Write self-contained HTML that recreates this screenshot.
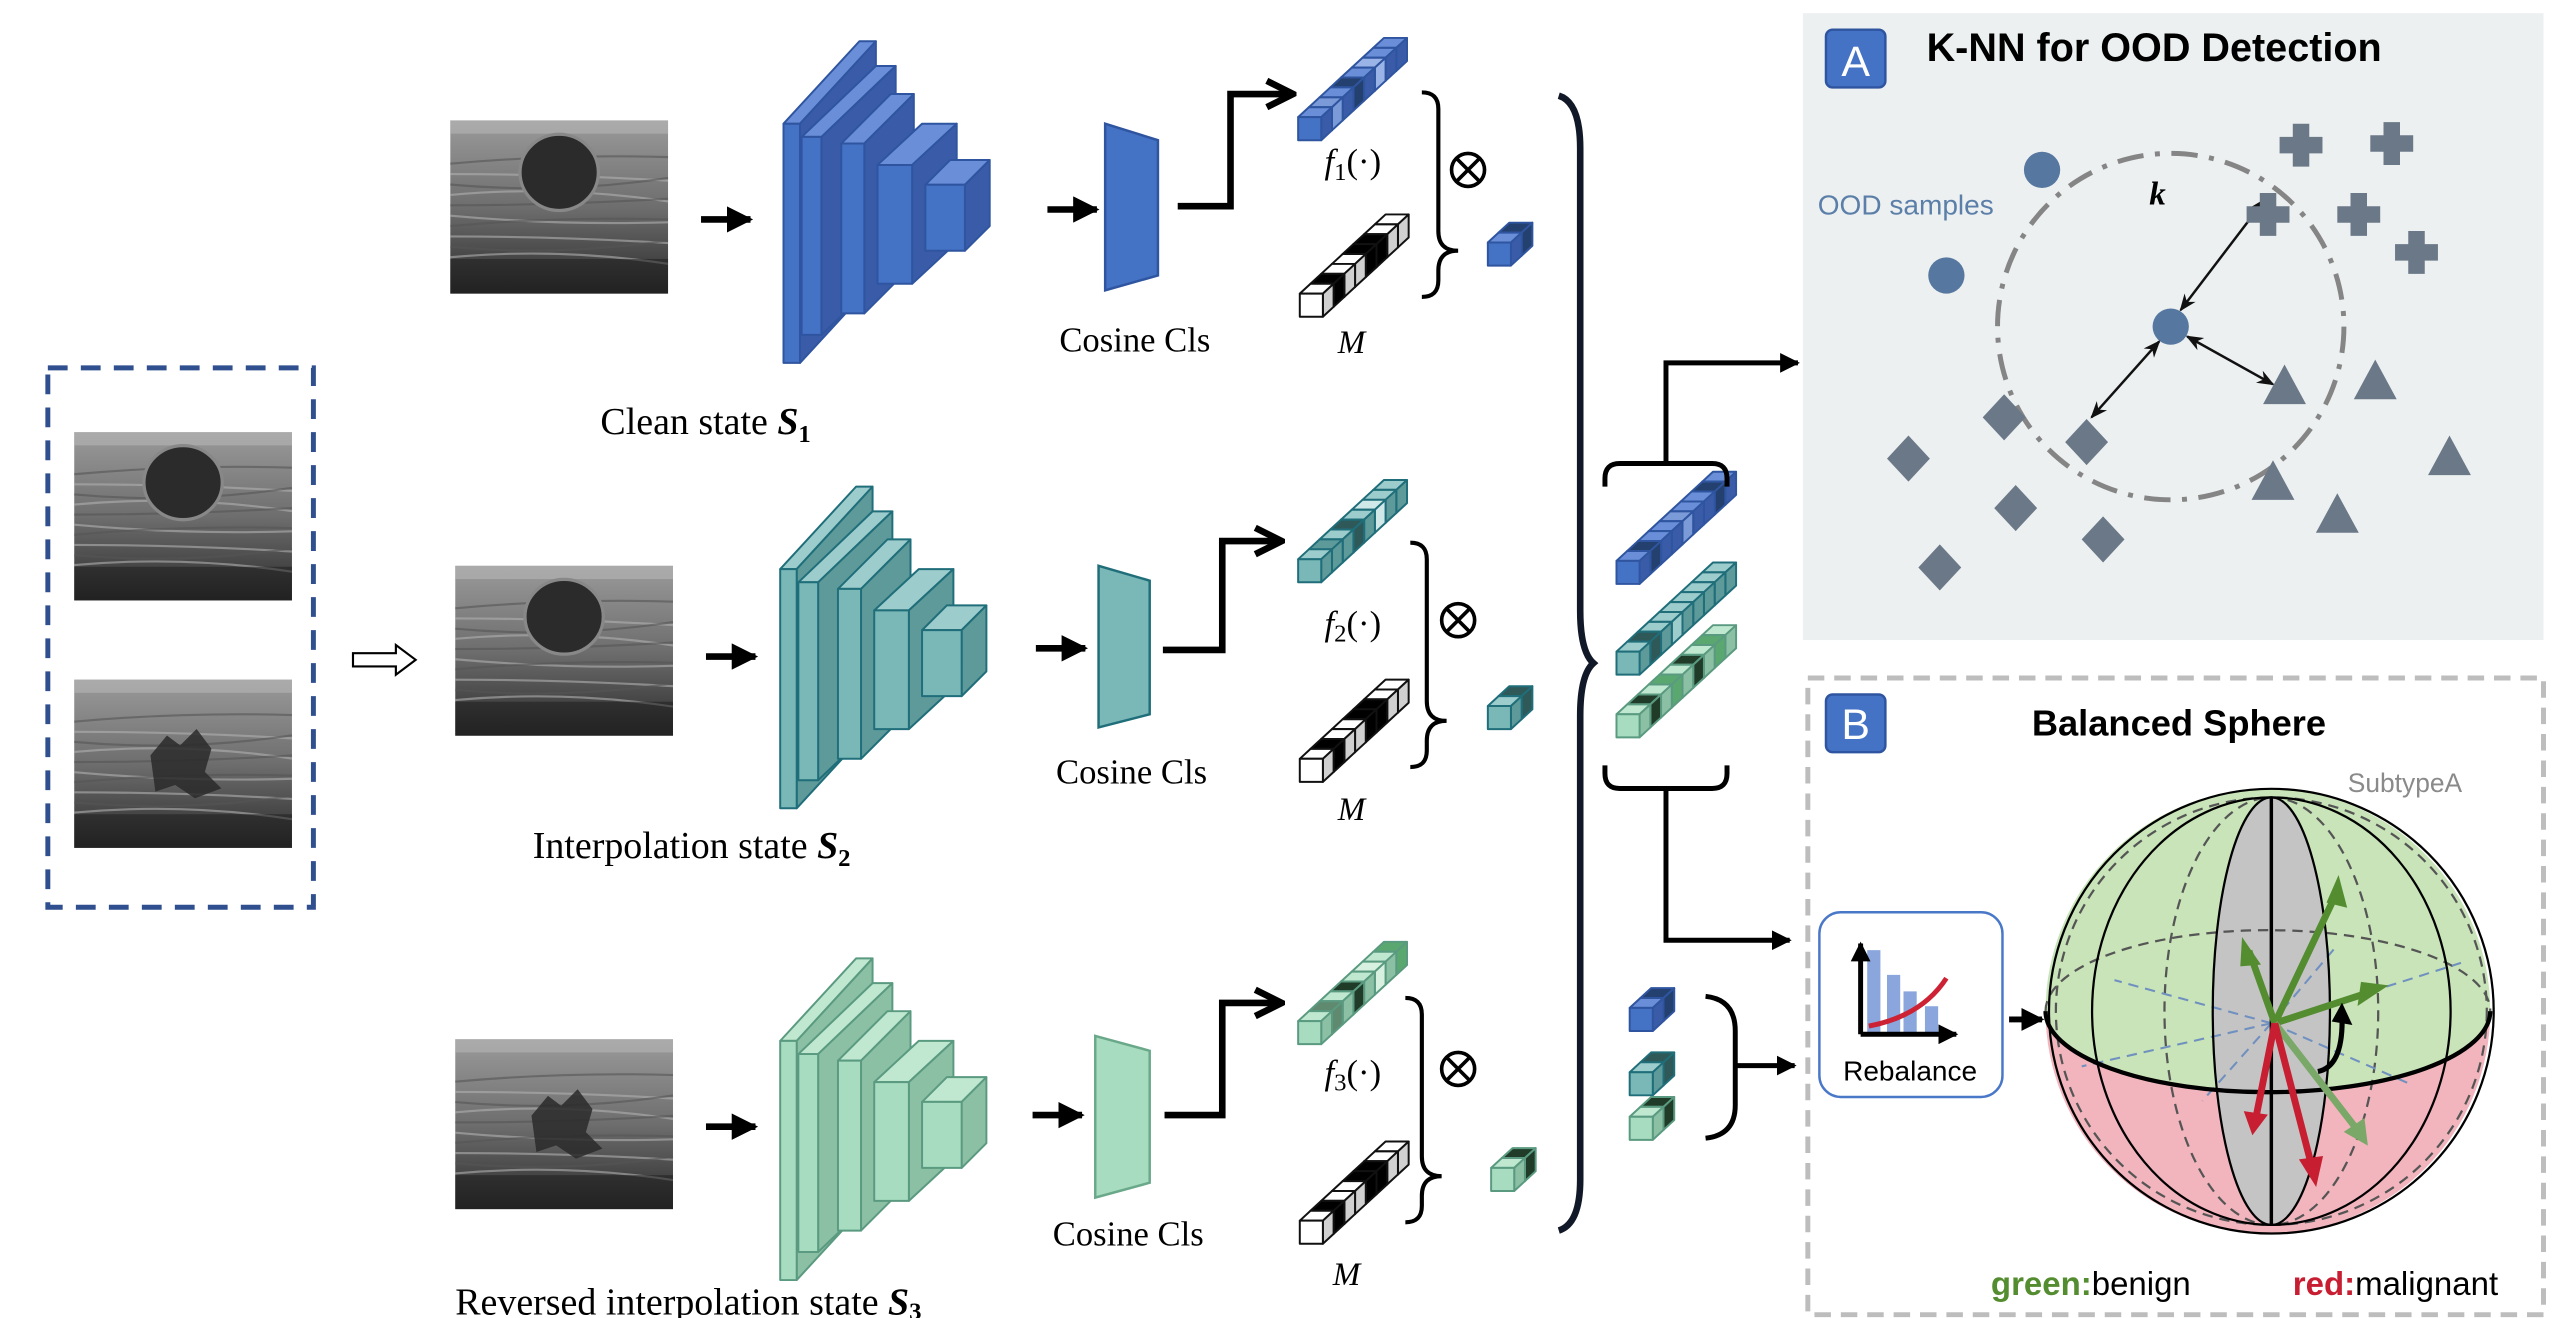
<!DOCTYPE html>
<html><head><meta charset="utf-8"><style>
html,body{margin:0;padding:0;background:#fff;}
svg{display:block;}
.serif{font-family:"Liberation Serif",serif;}
.sans{font-family:"Liberation Sans",sans-serif;}
</style></head><body>
<svg id="s" width="2560" height="1318" viewBox="0 0 1552 799" preserveAspectRatio="none" xmlns="http://www.w3.org/2000/svg">
<defs>
<marker id="ah" viewBox="0 0 10 10" refX="9" refY="5" markerWidth="4" markerHeight="4" orient="auto"><path d="M0,0 L10,5 L0,10 z" fill="#000"/></marker>
<marker id="ao" viewBox="0 0 10 10" refX="8" refY="5" markerWidth="5" markerHeight="5" orient="auto"><path d="M1,1 L9,5 L1,9" fill="none" stroke="#000" stroke-width="2"/></marker>
<marker id="sm" viewBox="0 0 10 10" refX="9" refY="5" markerWidth="7" markerHeight="7" orient="auto-start-reverse"><path d="M0,1 L10,5 L0,9 L3,5 z" fill="#111"/></marker>
<linearGradient id="usb" x1="0" y1="0" x2="0" y2="1"><stop offset="0" stop-color="#9a9a9a"/><stop offset="0.5" stop-color="#6e6e6e"/><stop offset="1" stop-color="#2a2a2a"/></linearGradient>
</defs>
<g id="dyn"></g>

<rect x="29" y="223" width="161" height="327" fill="none" stroke="#2f4f8f" stroke-width="3" stroke-dasharray="12,8"/>

<path d="M214,396 L240,396 L240,391 L252,400 L240,409 L240,404 L214,404 z" fill="#fff" stroke="#000" stroke-width="1.3"/>
<line x1="425" y1="133" x2="455" y2="133" stroke="#000" stroke-width="4" marker-end="url(#ah)"/>
<line x1="428" y1="398" x2="458" y2="398" stroke="#000" stroke-width="4" marker-end="url(#ah)"/>
<line x1="428" y1="683" x2="458" y2="683" stroke="#000" stroke-width="4" marker-end="url(#ah)"/>
<line x1="635" y1="127" x2="665" y2="127" stroke="#000" stroke-width="4" marker-end="url(#ah)"/>
<line x1="628" y1="393" x2="658" y2="393" stroke="#000" stroke-width="4" marker-end="url(#ah)"/>
<line x1="626" y1="676" x2="656" y2="676" stroke="#000" stroke-width="4" marker-end="url(#ah)"/>

<path d="M670,75 L702,85 L702,167 L670,176 z" fill="#4472c4" stroke="#2f55a0" stroke-width="1.5"/>
<path d="M666,343 L697,352 L697,433 L666,441 z" fill="#7ab8b8" stroke="#1f6e7a" stroke-width="1.5"/>
<path d="M664,628 L697,637 L697,717 L664,726 z" fill="#a8dcc0" stroke="#6aa88a" stroke-width="1.5"/>
<text x="688" y="213" class="serif" font-size="21" text-anchor="middle">Cosine Cls</text>
<text x="686" y="475" class="serif" font-size="21" text-anchor="middle">Cosine Cls</text>
<text x="684" y="755" class="serif" font-size="21" text-anchor="middle">Cosine Cls</text>

<path d="M714,125 L746,125 L746,57 L782,57" fill="none" stroke="#000" stroke-width="4" marker-end="url(#ao)"/>
<path d="M705,394 L741,394 L741,328 L775,328" fill="none" stroke="#000" stroke-width="4" marker-end="url(#ao)"/>
<path d="M706,676 L741,676 L741,608 L775,608" fill="none" stroke="#000" stroke-width="4" marker-end="url(#ao)"/>

<text x="364" y="263" class="serif" font-size="23">Clean state <tspan font-weight="bold" font-style="italic">S</tspan><tspan font-weight="bold" font-size="15" dy="5">1</tspan></text>
<text x="323" y="520" class="serif" font-size="23">Interpolation state <tspan font-weight="bold" font-style="italic">S</tspan><tspan font-weight="bold" font-size="15" dy="5">2</tspan></text>
<text x="276" y="797" class="serif" font-size="23">Reversed interpolation state <tspan font-weight="bold" font-style="italic">S</tspan><tspan font-weight="bold" font-size="15" dy="3">3</tspan></text>

<text x="803" y="105" class="serif" font-size="21"><tspan font-style="italic">f</tspan><tspan font-size="15" dy="4">1</tspan><tspan dy="-4">(·)</tspan></text>
<text x="803" y="385" class="serif" font-size="21"><tspan font-style="italic">f</tspan><tspan font-size="15" dy="4">2</tspan><tspan dy="-4">(·)</tspan></text>
<text x="803" y="657" class="serif" font-size="21"><tspan font-style="italic">f</tspan><tspan font-size="15" dy="4">3</tspan><tspan dy="-4">(·)</tspan></text>
<text x="811" y="214" class="serif" font-size="20" font-style="italic">M</text>
<text x="811" y="497" class="serif" font-size="20" font-style="italic">M</text>
<text x="808" y="779" class="serif" font-size="20" font-style="italic">M</text>

<g fill="none" stroke="#000" stroke-width="2.2">
<circle cx="890" cy="103" r="10"/><path d="M883,96 L897,110 M897,96 L883,110"/>
<circle cx="884" cy="376" r="10"/><path d="M877,369 L891,383 M891,369 L877,383"/>
<circle cx="884" cy="648" r="10"/><path d="M877,641 L891,655 M891,641 L877,655"/>
</g>
<g fill="none" stroke="#000" stroke-width="2.5">
<path d="M862,56 Q872,56 872,66 L872,140 Q872,152 884,152 Q872,152 872,164 L872,170 Q872,180 862,180"/>
<path d="M855,329 Q865,329 865,339 L865,425 Q865,437 877,437 Q865,437 865,449 L865,455 Q865,465 855,465"/>
<path d="M852,605 Q862,605 862,615 L862,701 Q862,713 874,713 Q862,713 862,725 L862,731 Q862,741 852,741"/>
</g>
<path d="M945,58 Q958,62 958,90 L958,370 Q958,395 966,402 Q958,409 958,434 L958,715 Q958,742 945,746" fill="none" stroke="#111827" stroke-width="4"/>
<g fill="none" stroke="#000" stroke-width="3">
<path d="M973,295 L973,290 Q973,281 982,281 L1038,281 Q1047,281 1047,290 L1047,295"/>
<path d="M973,464 L973,469 Q973,478 982,478 L1038,478 Q1047,478 1047,469 L1047,464"/>
<path d="M1010,281 L1010,220 L1090,220" marker-end="url(#ah)"/>
<path d="M1010,478 L1010,570 L1085,570" marker-end="url(#ah)"/>
<path d="M1034,604 Q1052,606 1052,625 L1052,670 Q1052,688 1034,690"/>
<path d="M1052,646 L1088,646" marker-end="url(#ah)"/>
</g>

<rect x="1093" y="8" width="449" height="380" fill="#ecf0f1"/>
<rect x="1107" y="18" width="36" height="35" rx="4" fill="#4472c4" stroke="#2f55a0" stroke-width="1.5"/>
<text x="1125" y="46" class="sans" font-size="26" fill="#fff" text-anchor="middle">A</text>
<text x="1168" y="37" class="sans" font-size="24" font-weight="bold">K-NN for OOD Detection</text>
<text x="1102" y="130" class="sans" font-size="17" fill="#5b7fa8">OOD samples</text>
<circle cx="1316" cy="198" r="105" fill="none" stroke="#858585" stroke-width="3" stroke-dasharray="16,7,3,7"/>
<text x="1303" y="124" class="serif" font-size="20" font-weight="bold" font-style="italic">k</text>
<g fill="#5678a0"><circle cx="1238" cy="103" r="11"/><circle cx="1180" cy="167" r="11"/><circle cx="1316" cy="198" r="11"/></g>
<g stroke="#111" stroke-width="1.5" marker-start="url(#sm)" marker-end="url(#sm)">
<line x1="1322" y1="188" x2="1373" y2="121"/>
<line x1="1309" y1="207" x2="1268" y2="253"/>
<line x1="1326" y1="204" x2="1378" y2="233"/>
</g>
<g id="ptsA" fill="#6b7888"></g>

<rect x="1096" y="411" width="446" height="386" fill="none" stroke="#bdbdbd" stroke-width="3" stroke-dasharray="10,6"/>
<rect x="1107" y="421" width="36" height="35" rx="4" fill="#4472c4" stroke="#2f55a0" stroke-width="1.5"/>
<text x="1125" y="448" class="sans" font-size="26" fill="#fff" text-anchor="middle">B</text>
<text x="1321" y="446" class="sans" font-size="22" font-weight="bold" text-anchor="middle">Balanced Sphere</text>
<text x="1458" y="480" class="sans" font-size="16" fill="#8a8a8a" text-anchor="middle">SubtypeA</text>
<rect x="1103" y="553" width="111" height="112" rx="13" fill="#fff" stroke="#4a78c8" stroke-width="1.5"/>
<g fill="#8aa6dc"><rect x="1132" y="576" width="8" height="50"/><rect x="1144" y="591" width="8" height="35"/><rect x="1154" y="601" width="8" height="25"/><rect x="1167" y="610" width="8" height="16"/></g>
<path d="M1128,627 L1128,572" stroke="#000" stroke-width="3" marker-end="url(#ah)"/>
<path d="M1128,627 L1186,627" stroke="#000" stroke-width="3" marker-end="url(#ah)"/>
<path d="M1133,622 Q1165,616 1180,593" fill="none" stroke="#cc2233" stroke-width="3"/>
<text x="1158" y="655" class="sans" font-size="17" text-anchor="middle">Rebalance</text>
<line x1="1218" y1="618" x2="1238" y2="618" stroke="#000" stroke-width="3.5" marker-end="url(#ah)"/>

<g transform="translate(1377,613) scale(1.045) translate(-1358,-598)">
<path d="M1227,598 A129,129 0 0 1 1485,598 A129,47 0 0 1 1227,598 z" fill="#c8e4b8"/>
<path d="M1227,598 A129,47 0 0 0 1485,598 A129,129 0 0 1 1227,598 z" fill="#f2b5bd"/>
<ellipse cx="1358" cy="598" rx="34" ry="124" fill="#c4c4c4"/>
<g fill="none" stroke="#555" stroke-width="1.3" stroke-dasharray="6,4">
<ellipse cx="1358" cy="598" rx="125" ry="124"/>
<ellipse cx="1358" cy="598" rx="62" ry="124"/>
<path d="M1227,598 A129,47 0 0 1 1485,598"/>
</g>
<g fill="none" stroke="#7090c0" stroke-width="1.2" stroke-dasharray="6,4">
<line x1="1358" y1="605" x2="1248" y2="630"/><line x1="1358" y1="605" x2="1468" y2="570"/>
<line x1="1358" y1="605" x2="1267" y2="580"/><line x1="1358" y1="605" x2="1438" y2="640"/>
<line x1="1358" y1="605" x2="1318" y2="650"/><line x1="1358" y1="605" x2="1396" y2="560"/>
</g>
<g fill="none" stroke="#000" stroke-width="1.3">
<ellipse cx="1358" cy="598" rx="104" ry="124"/>
<ellipse cx="1358" cy="598" rx="34" ry="124"/>
</g>
<line x1="1358" y1="474" x2="1358" y2="722" stroke="#000" stroke-width="2"/>
<path d="M1227,598 A129,47 0 0 0 1485,598" fill="none" stroke="#000" stroke-width="2.5"/>
<circle cx="1358" cy="598" r="129" fill="none" stroke="#000" stroke-width="1.3"/>
<g stroke-width="4" fill="none">
<line x1="1360" y1="605" x2="1397" y2="527" stroke="#548c30"/>
<line x1="1360" y1="605" x2="1345" y2="563" stroke="#548c30"/>
<line x1="1360" y1="605" x2="1418" y2="586" stroke="#548c30"/>
<line x1="1360" y1="605" x2="1408" y2="667" stroke="#7aa868"/>
<line x1="1360" y1="605" x2="1349" y2="660" stroke="#c81e32"/>
<line x1="1360" y1="605" x2="1382" y2="690" stroke="#c81e32"/>
<path d="M1385,633 Q1400,630 1399,600" stroke="#000" stroke-width="3"/>
</g>
<path d="M1397,519 L1402,538 L1390,535 z" fill="#548c30"/>
<path d="M1341,555 L1352,571 L1340,572 z" fill="#548c30"/>
<path d="M1426,583 L1408,595 L1410,581 z" fill="#548c30"/>
<path d="M1414,676 L1400,668 L1412,660 z" fill="#7aa868"/>
<path d="M1347,670 L1342,656 L1356,658 z" fill="#c81e32"/>
<path d="M1384,700 L1374,684 L1388,682 z" fill="#c81e32"/>
<path d="M1399,593 L1405,606 L1393,604 z" fill="#000"/>
</g>
<text x="1207" y="785" class="sans" font-size="20"><tspan fill="#548c30" font-weight="bold">green:</tspan>benign</text>
<text x="1390" y="785" class="sans" font-size="20"><tspan fill="#c81e32" font-weight="bold">red:</tspan>malignant</text>
</svg>
<script>
var NS="http://www.w3.org/2000/svg",dyn=document.getElementById("dyn");
function el(t,a,p){var e=document.createElementNS(NS,t);for(var k in a)e.setAttribute(k,a[k]);(p||dyn).appendChild(e);return e;}
function poly(pts,fill,stroke,sw,p){el("polygon",{points:pts.map(function(q){return q.join(",")}).join(" "),fill:fill,stroke:stroke,"stroke-width":sw||1,"stroke-linejoin":"round"},p);}
function box(x,y,w,h,dx,dy,c){
 poly([[x,y],[x+dx,y+dy],[x+w+dx,y+dy],[x+w,y]],c[1],c[3],1.2);
 poly([[x+w,y],[x+w+dx,y+dy],[x+w+dx,y+h+dy],[x+w,y+h]],c[2],c[3],1.2);
 poly([[x,y],[x+w,y],[x+w,y+h],[x,y+h]],c[0],c[3],1.2);
}
var BL=["#4472c4","#6a8fd8","#3a5ca8","#2f55a0"],TE=["#7ab8b8","#9dcccc","#5f9a9a","#1f6e7a"],GR=["#a8dcc0","#c0e8d0","#8cc0a4","#5a9a80"];
function cnn(ox,oy,c){
 var L=[[475,75,10,145,46,-50],[486,83,12,120,45,-43],[510,87,14,103,30,-30],[532,100,21,72,27,-25],[561,112,24,40,15,-15]];
 L.forEach(function(l){box(l[0]+ox,l[1]+oy,l[2],l[3],l[4],l[5],c);});
}
cnn(0,0,BL);cnn(-2,270,TE);cnn(-2,556,GR);
function us(x,y,w,h,mass){
 var g=el("g",{});
 el("rect",{x:x,y:y,width:w,height:h,fill:"url(#usb)"},g);
 for(var i=0;i<10;i++){el("path",{d:"M"+x+","+(y+h*0.25+i*h*0.06)+" q"+w/2+","+((i%3)-1)*6+" "+w+","+((i%2)?4:-4),stroke:i%2?"#b0b0b0":"#555",fill:"none","stroke-width":1.3,opacity:0.6},g);}
 el("rect",{x:x,y:y,width:w,height:8,fill:"#b5b5b5",opacity:0.6},g);
 if(mass==1) el("ellipse",{cx:x+w*0.5,cy:y+h*0.3,rx:w*0.18,ry:h*0.22,fill:"#2b2b2b",stroke:"#888","stroke-width":2},g);
 if(mass==2){el("path",{d:"M"+(x+w*0.35)+","+(y+h*0.45)+" l10,-12 l8,6 l10,-10 l9,12 l-4,14 l10,10 l-16,6 l-12,-8 l-12,4 z",fill:"#2a2a2a",opacity:0.85},g);}
 el("rect",{x:x,y:y+h*0.8,width:w,height:h*0.2,fill:"#1a1a1a",opacity:0.5},g);
}
us(273,73,132,105,1);us(276,343,132,103,1);us(276,630,132,103,2);us(45,262,132,102,1);us(45,412,132,102,2);
function vec(x,y,n,c,pat){
 var s=14,dx=6.5,dy=-6;
 for(var i=n-1;i>=0;i--){
  var cx=x+i*dx,cy=y+i*dy;
  var col=c.slice();
  if(pat&&pat[i]){col=[pat[i],pat[i],pat[i],c[3]];}
  box(cx,cy,s,s,dx,dy,col);
 }
}
vec(787,71,8,BL,[0,"#7a9ad8",0,"#24406e",0,"#9ab4e8",0,0]);
vec(787,339,8,TE,[0,"#5f9a9a",0,"#2f5858",0,"#d0e8e8",0,0]);
vec(787,619,8,GR,[0,"#5f8a70",0,"#203c28",0,"#d8f0e0",0,"#5aa870"]);
[[788,178],[788,460],[788,740]].forEach(function(p){vec(p[0],p[1],8,["#fff","#fff","#d0d0d0","#111"],[0,"#000",0,0,"#000","#000",0,0]);});
vec(902,147,2,BL,[0,"#24406e"]);vec(902,428,2,TE,[0,"#2f5858"]);vec(904,708,2,GR,[0,"#203c28"]);
vec(980,340,9,BL,[0,"#24406e",0,0,"#7a9ad8",0,0,"#24406e",0]);
vec(980,395,9,TE,[0,"#2f5858",0,"#9dcccc",0,0,0,0,0]);
vec(980,433,9,GR,[0,"#203c28",0,"#5aa870",0,"#203c28",0,"#5aa870",0]);
vec(988,611,2,BL,[0,"#24406e"]);vec(988,650,2,TE,[0,"#2f5858"]);vec(988,677,2,GR,[0,"#203c28"]);
var pa=document.getElementById("ptsA");
[[1395,88],[1450,87],[1375,130],[1430,130],[1465,153]].forEach(function(p){
 el("path",{d:"M"+(p[0]-5)+","+(p[1]-13)+" h10 v8 h8 v10 h-8 v8 h-10 v-8 h-8 v-10 h8 z"},pa);});
[[1215,253],[1157,278],[1265,268],[1222,308],[1275,327],[1176,344]].forEach(function(p){
 el("path",{d:"M"+p[0]+","+(p[1]-14)+" l13,14 l-13,14 l-13,-14 z"},pa);});
[[1385,235],[1440,232],[1485,278],[1378,293],[1417,313]].forEach(function(p){
 el("path",{d:"M"+p[0]+","+(p[1]-14)+" l13,24 l-26,0 z"},pa);});
</script>
</body></html>
